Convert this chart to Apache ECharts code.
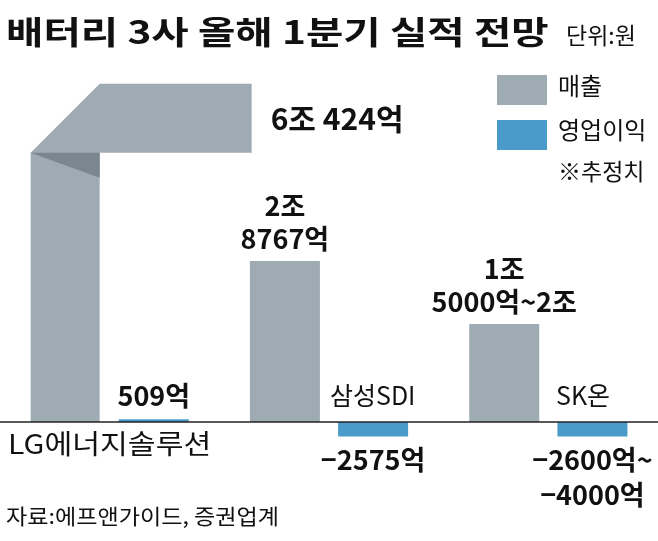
<!DOCTYPE html>
<html><head><meta charset="utf-8">
<script src="https://cdn.jsdelivr.net/npm/echarts@6/dist/echarts.min.js"></script>
<style>html,body{margin:0;padding:0;background:#fff}#c{width:658px;height:541px}</style>
</head><body><div id="c"></div>
<script>
const categories = ['LG에너지솔루션', '삼성SDI', 'SK온'];
const sales = [6.0424, 2.8767, 1.75];          // 조 원
const profit = [0.0509, -0.2575, -0.26];      // 조 원
const salesLabels = ['6조 424억', '2조\n8767억', '1조\n5000억~2조'];
const profitLabels = ['509억', '−2575억', '−2600억~\n−4000억'];

const GRAY = '#9eabb2', DARK = '#7b878e', BLUE = '#4a9bc9';
const F = '"Noto Sans CJK KR", sans-serif';
const chart = echarts.init(document.getElementById('c'));
chart.setOption({
  animation: false,
  grid: { left: 0, right: -6, top: 58, bottom: 91 },
  xAxis: { type: 'category', data: categories, axisLine: { show: false }, axisTick: { show: false }, axisLabel: { show: false } },
  yAxis: { type: 'value', min: -0.5, max: 6.5, show: false, splitLine: { show: false } },
  series: [
    { type: 'custom', data: [[0, sales[0]]], z: 2,
      renderItem: function (params, api) {
        const base = api.coord([api.value(0), 0]);
        const top = api.coord([api.value(0), api.value(1)]);
        const c = base[0], w = 69, L = c - 79, R = L + w, t = top[1], b = t + w, yb = base[1];
        return { type: 'group', children: [
          { type: 'polygon', shape: { points: [[L, yb], [L, b], [R, t], [L + 221, t], [L + 221, b], [R, b], [R, yb]] }, style: { fill: GRAY } },
          { type: 'polygon', shape: { points: [[L, b], [R, b], [R, b + 25]] }, style: { fill: DARK } },
          { type: 'text', x: L + 240, y: t + 35, style: { text: salesLabels[0], font: 'bold 30px ' + F, fill: '#111', verticalAlign: 'middle' } }
        ] };
      }
    },
    { type: 'bar', barWidth: 70, barGap: '26%', itemStyle: { color: GRAY },
      data: sales.map((v, i) => i === 0 ? '-' : { value: v, label: { formatter: salesLabels[i] } }),
      label: { show: true, position: 'top', distance: 6, color: '#111', fontFamily: F, fontWeight: 'bold', fontSize: 27, lineHeight: 33 } },
    { type: 'bar', barWidth: 70, itemStyle: { color: BLUE },
      data: profit.map((v, i) => ({ value: v, label: { formatter: profitLabels[i], position: v >= 0 ? 'top' : 'bottom' } })),
      label: { show: true, distance: 6, color: '#111', fontFamily: F, fontWeight: 'bold', fontSize: 27, lineHeight: 35 } }
  ],
  graphic: [
    { type: 'line', shape: { x1: 0, y1: 422, x2: 658, y2: 422 }, style: { stroke: '#222', lineWidth: 1.5 }, z: 10 },
    { type: 'text', x: 6, y: 16, scaleX: 1.27, style: { text: '배터리 3사 올해 1분기 실적 전망', font: 'bold 32px ' + F, fill: '#111' } },
    { type: 'text', x: 566, y: 24, style: { text: '단위:원', font: '23px ' + F, fill: '#111' } },
    { type: 'rect', shape: { x: 497, y: 75, width: 50, height: 30 }, style: { fill: GRAY } },
    { type: 'text', left: 558, top: 74, style: { text: '매출', font: '24px ' + F, fill: '#111' } },
    { type: 'rect', shape: { x: 497, y: 120, width: 50, height: 30 }, style: { fill: BLUE } },
    { type: 'text', left: 558, top: 118, style: { text: '영업이익', font: '24px ' + F, fill: '#111' } },
    { type: 'text', left: 558, top: 160, style: { text: '※추정치', font: '23px ' + F, fill: '#111' } },
    { type: 'text', x: 8, y: 430, scaleX: 1.12, style: { text: categories[0], font: '27px ' + F, fill: '#111' } },
    { type: 'text', left: 330, top: 383, style: { text: categories[1], font: '25px ' + F, fill: '#111' } },
    { type: 'text', left: 556, top: 383, style: { text: categories[2], font: '25px ' + F, fill: '#111' } },
    { type: 'text', x: 6, y: 506, scaleX: 1.1, style: { text: '자료:에프앤가이드, 증권업계', font: '21px ' + F, fill: '#111' } }
  ]
});
</script></body></html>
